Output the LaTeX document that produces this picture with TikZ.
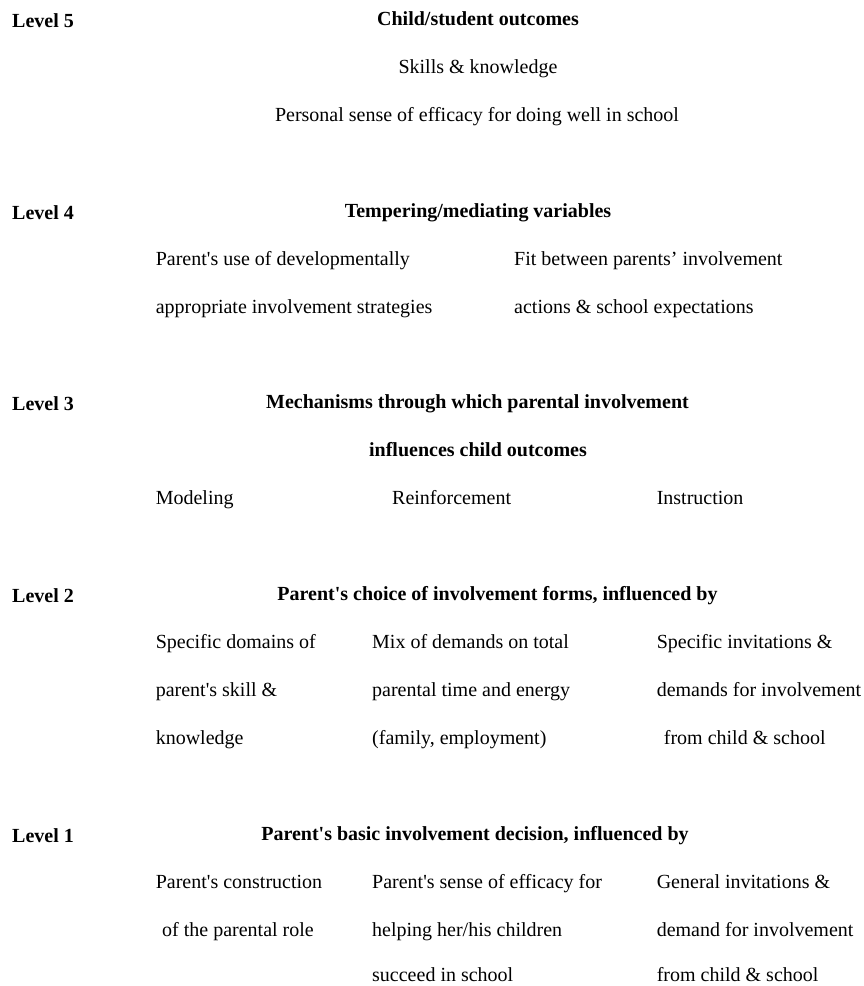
\documentclass[tikz,border=0pt]{standalone}
\usepackage{fontspec}
\setmainfont{Liberation Serif}
\newcommand{\fsz}{\fontsize{20}{24}\selectfont}
\newcommand{\aps}{\textquotesingle}
\begin{document}
\begin{tikzpicture}[x=1pt,y=-1pt,
  txt/.style={inner sep=0pt, anchor=base west, font=\fsz},
  hd/.style={inner sep=0pt, anchor=base, font=\fsz\bfseries},
  lvl/.style={inner sep=0pt, anchor=base west, font=\fsz\bfseries}]
\useasboundingbox (0,0) rectangle (864,986);
% Level 5
\node[lvl] (l5) at (12,27) {Level 5};
\node[hd] (h5) at (478,25) {Child/student outcomes};
\node[txt,anchor=base] (s5a) at (478,73) {Skills \& knowledge};
\node[txt,anchor=base] (s5b) at (477,121) {Personal sense of efficacy for doing well in school};
% Level 4
\node[lvl] (l4) at (12,219) {Level 4};
\node[hd] (h4) at (478,217) {Tempering/mediating variables};
\node[txt] (a4a) at (155.6,265) {Parent\aps s use of developmentally};
\node[txt] (a4b) at (155.6,313) {appropriate involvement strategies};
\node[txt] (b4a) at (514,265) {Fit between parents' involvement};
\node[txt] (b4b) at (514,313) {actions \& school expectations};
% Level 3
\node[lvl] (l3) at (12,410) {Level 3};
\node[hd] (h3a) at (477.5,408) {Mechanisms through which parental involvement};
\node[hd] (h3b) at (478,456) {influences child outcomes};
\node[txt] (m3) at (155.6,504) {Modeling};
\node[txt] (r3) at (392,504) {Reinforcement};
\node[txt] (i3) at (656.6,504) {Instruction};
% Level 2
\node[lvl] (l2) at (12,602) {Level 2};
\node[hd] (h2) at (497.5,600) {Parent\aps s choice of involvement forms, influenced by};
\node[txt] (a2a) at (155.6,648) {Specific domains of};
\node[txt] (a2b) at (155.6,696) {parent\aps s skill \&};
\node[txt] (a2c) at (155.6,744) {knowledge};
\node[txt] (b2a) at (372,648) {Mix of demands on total};
\node[txt] (b2b) at (372,696) {parental time and energy};
\node[txt] (b2c) at (372,744) {(family, employment)};
\node[txt] (c2a) at (656.6,648) {Specific invitations \&};
\node[txt] (c2b) at (656.6,696) {demands for involvement};
\node[txt] (c2c) at (663.7,744) {from child \& school};
% Level 1
\node[lvl] (l1) at (12,842) {Level 1};
\node[hd] (h1) at (475,840) {Parent\aps s basic involvement decision, influenced by};
\node[txt] (a1a) at (155.6,888) {Parent\aps s construction};
\node[txt] (a1b) at (162,936) {of the parental role};
\node[txt] (b1a) at (372,888) {Parent\aps s sense of efficacy for};
\node[txt] (b1b) at (372,936) {helping her/his children};
\node[txt] (b1c) at (372,981) {succeed in school};
\node[txt] (c1a) at (656.6,888) {General invitations \&};
\node[txt] (c1b) at (656.6,936) {demand for involvement};
\node[txt] (c1c) at (656.6,981) {from child \& school};
\end{tikzpicture}
\end{document}
